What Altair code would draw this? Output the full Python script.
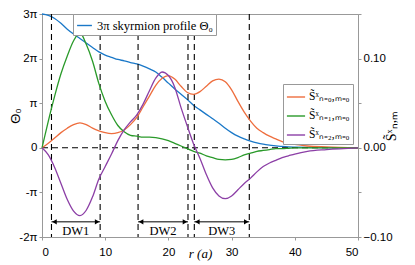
import altair as alt
import pandas as pd

# ---- data ----
r = [0, 1, 2, 3, 4, 5, 6, 7, 8, 9, 10, 11, 12, 13, 14, 15, 16, 17, 18, 19, 20,
     21, 22, 23, 24, 25, 26, 27, 28, 29, 30, 31, 32, 33, 34, 35, 36, 37, 38, 39,
     40, 42, 45, 50]
theta0_over_pi = [3.0, 2.97, 2.9, 2.79, 2.66, 2.55, 2.45, 2.35, 2.25, 2.15, 2.08,
                  2.03, 1.98, 1.95, 1.91, 1.88, 1.83, 1.77, 1.70, 1.58, 1.45,
                  1.32, 1.2, 1.08, 0.95, 0.85, 0.75, 0.65, 0.55, 0.44, 0.34,
                  0.26, 0.2, 0.15, 0.11, 0.08, 0.06, 0.045, 0.03, 0.02,
                  0.015, 0.008, 0.003, 0.0]
s_n0 = [0, 0.005, 0.011, 0.017, 0.022, 0.026, 0.028, 0.026, 0.022, 0.019, 0.017,
        0.016, 0.017, 0.020, 0.026, 0.034, 0.046, 0.058, 0.070, 0.078, 0.081,
        0.077, 0.069, 0.062, 0.060, 0.063, 0.069, 0.075, 0.077, 0.074, 0.065,
        0.052, 0.040, 0.030, 0.022, 0.017, 0.013, 0.010, 0.007, 0.005,
        0.004, 0.002, 0.001, 0.0]
s_n1 = [0, 0.03, 0.058, 0.083, 0.103, 0.12, 0.129, 0.116, 0.097, 0.072, 0.052,
        0.037, 0.025, 0.018, 0.014, 0.013, 0.012, 0.012, 0.0115, 0.010, 0.008,
        0.005, 0.002, -0.001, -0.004, -0.006, -0.009, -0.011, -0.013, -0.0135, -0.013,
        -0.011, -0.008, -0.006, -0.004, -0.003, -0.002, -0.001, -0.001, -0.0005,
        0.0, 0.0, 0.0, 0.0]
s_n2 = [0, -0.008, -0.022, -0.040, -0.058, -0.071, -0.076, -0.070, -0.055, -0.035, -0.021,
        -0.007, 0.008, 0.020, 0.029, 0.037, 0.049, 0.064, 0.078, 0.085, 0.081,
        0.068, 0.045, 0.024, 0.004, -0.012, -0.030, -0.045, -0.054, -0.057, -0.054,
        -0.047, -0.040, -0.034, -0.027, -0.021, -0.017, -0.014, -0.011, -0.009,
        -0.007, -0.004, -0.002, 0.0]

dw_lines = [1.5, 9.2, 15.2, 23.1, 24.1, 32.8]
dw_names = ["DW1", "DW2", "DW3"]
dw_start = [1.5, 15.2, 24.1]
dw_end = [9.2, 23.1, 32.8]
arrow_level = -1.66   # in units of pi (left axis)
label_level = -1.86

blue_label = "3π skyrmion profile Θ₀"
s_labels = ["S̃ˣₙ₌₀,ₘ₌₀", "S̃ˣₙ₌₁,ₘ₌₀", "S̃ˣₙ₌₂,ₘ₌₀"]
c_blue = "#1a78c8"
s_colors = ["#ee6e3e", "#2a9a2a", "#8c3fa6"]

W, H = 316, 223

# ---- tables ----
blue_df = pd.DataFrame({"r": r, "y": theta0_over_pi, "name": blue_label})
s_df = pd.concat([
    pd.DataFrame({"r": r, "s": vals, "series": lab})
    for vals, lab in zip([s_n0, s_n1, s_n2], s_labels)
])
vlines_df = pd.DataFrame({"r": dw_lines})
hline_df = pd.DataFrame({"y": [0]})
arrows_df = pd.DataFrame({
    "r": dw_start, "r2": dw_end, "y": [arrow_level] * 3,
    "mid": [(a + b) / 2 for a, b in zip(dw_start, dw_end)],
    "ly": [label_level] * 3, "name": dw_names,
})

SERIF = "Liberation Serif"
SANS = "Liberation Sans"

x_axis = alt.Axis(values=[0, 10, 20, 30, 40, 50], title="r (a)", titleFont=SERIF,
                  titleFontStyle="italic", titleFontWeight="normal", titleFontSize=13,
                  titleY=16, titleBaseline="middle", labelPadding=6)
x_scale = alt.Scale(domain=[0, 50], nice=False, zero=False)


def X(field="r"):
    return alt.X(f"{field}:Q", scale=x_scale, axis=x_axis)


y_left_scale = alt.Scale(domain=[-2, 3], nice=False, zero=False)
y_left_axis = alt.Axis(
    values=[-2, -1, 0, 1, 2, 3], title="Θ₀", titleFontSize=13, titleFont=SANS,
    titleFontWeight="normal", titleX=-27, titleY=H / 2 - 10, titleBaseline="middle",
    titleAlign="center", titleAngle=270,
    labelExpr="datum.value == 0 ? '0' : (datum.value == 1 ? 'π' : (datum.value == -1 ? '-π' : datum.value + 'π'))",
)


def YL(field="y"):
    return alt.Y(f"{field}:Q", scale=y_left_scale, axis=y_left_axis)


blue = alt.Chart(blue_df).mark_line(strokeWidth=1.3, interpolate="monotone").encode(
    x=X(), y=YL(),
    color=alt.Color("name:N", scale=alt.Scale(domain=[blue_label], range=[c_blue]),
                    legend=alt.Legend(orient="none", legendX=31, legendY=0, title=None,
                                      symbolType="stroke", symbolSize=220,
                                      symbolStrokeWidth=1.4, labelFont=SERIF,
                                      labelFontSize=12.5, strokeColor="#999999",
                                      fillColor="white", padding=3, labelOffset=4)),
)
vlines = alt.Chart(vlines_df).mark_rule(color="black", strokeDash=[6, 4], strokeWidth=1.1).encode(
    x=X()
)
hline = alt.Chart(hline_df).mark_rule(color="black", strokeDash=[6, 4], strokeWidth=1.1).encode(
    y=YL()
)
arrow_rule = alt.Chart(arrows_df).mark_rule(color="black", strokeWidth=1).encode(
    x=X(), x2="r2:Q", y=YL()
)
head_left = alt.Chart(arrows_df).mark_point(shape="triangle-left", filled=True, color="black",
                                            size=28, opacity=1, xOffset=3).encode(x=X(), y=YL())
head_right = alt.Chart(arrows_df).mark_point(shape="triangle-right", filled=True, color="black",
                                             size=28, opacity=1, xOffset=-3).encode(x=X("r2"), y=YL())
dw_text = alt.Chart(arrows_df).mark_text(font=SERIF, fontSize=12.5, color="black",
                                         baseline="middle").encode(
    x=X("mid"), y=YL("ly"), text="name:N"
)

left = alt.layer(blue, vlines, hline, arrow_rule, head_left, head_right, dw_text)

right = alt.Chart(s_df).mark_line(strokeWidth=1.3, interpolate="monotone").encode(
    x=X(),
    y=alt.Y("s:Q", scale=alt.Scale(domain=[-0.10, 0.15], nice=False, zero=False),
            axis=alt.Axis(orient="right", values=[-0.1, -0.05, 0, 0.05, 0.1, 0.15],
                          labelExpr="abs(round(datum.value * 100)) % 10 == 0 ? format(datum.value, '.2f') : ''",
                          title="S̃ˣₙ,ₘ", titleAngle=270, titleFont=SERIF, titleFontSize=14,
                          titleFontWeight="normal", titlePadding=6)),
    color=alt.Color("series:N", scale=alt.Scale(domain=s_labels, range=s_colors),
                    legend=alt.Legend(orient="none", legendX=241, legendY=70, title=None,
                                      symbolType="stroke", symbolSize=330,
                                      symbolStrokeWidth=1.4, labelFont=SERIF,
                                      labelFontSize=11.5, strokeColor="#999999",
                                      fillColor="white", padding=3, rowPadding=3,
                                      labelOffset=3)),
)

chart = alt.layer(left, right).resolve_scale(y="independent", color="independent").properties(
    width=W, height=H,
    autosize=alt.AutoSizeParams(type="none"),
    padding={"left": 34, "top": 6, "right": 49, "bottom": 26},
).configure_view(stroke="#999999", strokeWidth=1).configure_axis(
    grid=False, domainColor="#999999", tickColor="#999999", tickSize=3,
    labelFont=SANS, labelFontSize=11.5, labelColor="black", titleColor="black",
)

chart.save("out.html", embed_options={"renderer": "svg", "actions": False})
